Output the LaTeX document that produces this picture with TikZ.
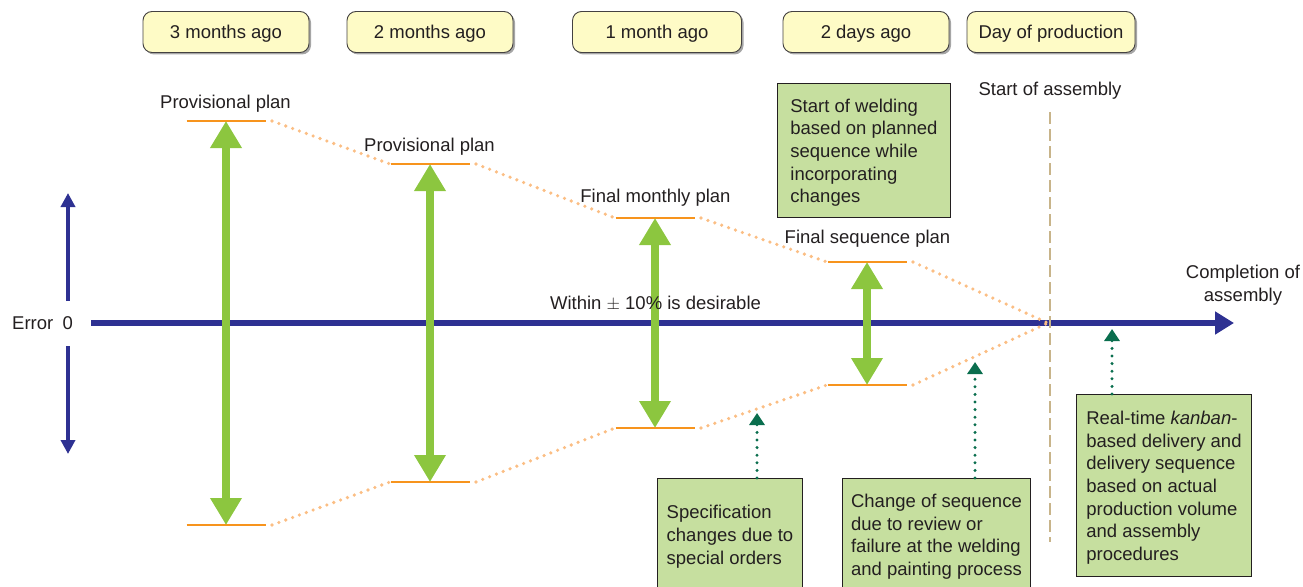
\documentclass[tikz,border=0pt]{standalone}
\usepackage{fontspec}
\setmainfont{Liberation Sans}
\usetikzlibrary{arrows.meta,shadows}

\definecolor{ink}{HTML}{231F20}
\definecolor{navy}{HTML}{2E3192}
\definecolor{leaf}{HTML}{8CC63F}
\definecolor{amber}{HTML}{F7941D}
\definecolor{peach}{HTML}{FBBE84}
\definecolor{sand}{HTML}{C8B48A}
\definecolor{pine}{HTML}{0A6E4E}
\definecolor{cream}{HTML}{FEFBC6}
\definecolor{sage}{HTML}{C6DF9F}

\newcommand\topstrut{\rule{0pt}{18pt}}

\tikzset{
  period/.style={draw=ink!85, line width=0.9pt, fill=cream, rounded corners=9pt,
    minimum height=41pt, inner sep=0pt, text height=17.5pt, text depth=3.9pt,
    drop shadow={shadow xshift=2pt, shadow yshift=-2pt, fill=black, opacity=0.35}},
  note/.style={draw=ink, line width=0.9pt, fill=sage, align=left, inner sep=0pt, anchor=north west},
  lbl/.style={inner sep=0pt, text height=17.3pt, text depth=3.9pt},
  level/.style={draw=amber, line width=2.6pt},
  trend/.style={draw=peach, line width=3.6pt, line cap=round, dash pattern=on 0pt off 7.3pt},
  spread/.style={draw=leaf, line width=7.3pt, {Triangle[width=30pt,length=27pt]}-{Triangle[width=30pt,length=27pt]}},
  cause/.style={draw=pine, line width=3.3pt, line cap=round, dash pattern=on 0pt off 7.6pt,
    -{Triangle[width=15pt,length=12pt]}},
  sign/.style={draw=navy, line width=4pt, -{Triangle[width=14pt,length=14pt]}},
}

\begin{document}
\begin{tikzpicture}[x=1pt, y=-1pt, font=\fontsize{18.5}{22.7}\selectfont, text=ink]
\useasboundingbox (0,0) rectangle (1303,586);
\clip (0,0) rectangle (1303,586);

% time line headings
\node[period, minimum width=166pt] (m3) at (226,32) {3 months ago};
\node[period, minimum width=166pt] (m2) at (430,32) {2 months ago};
\node[period, minimum width=169pt] (m1) at (657,32) {1 month ago};
\node[period, minimum width=166pt] (d2) at (866,32) {2 days ago};
\node[period, minimum width=168pt] (d0) at (1051,32) {Day of production};

% plan levels (upper and lower error limits)
\coordinate (t1) at (226,121); \coordinate (b1) at (226,525);
\coordinate (t2) at (430,164); \coordinate (b2) at (430,482);
\coordinate (t3) at (655,218); \coordinate (b3) at (655,428);
\coordinate (t4) at (867,262); \coordinate (b4) at (867,385);
\coordinate (conv) at (1048,323);

% zero error axis
\coordinate (ax0) at (91,323);
\coordinate (ax1) at (1234,323);
\draw[navy, line width=6pt, -{Triangle[width=22pt,length=19pt]}] (ax0) -- (ax1);

\node[lbl] (err) at (42.5,323) {Error\enspace0};
\coordinate (up0) at (68,301); \coordinate (up1) at (68,193);
\coordinate (dn0) at (68,346); \coordinate (dn1) at (68,454);
\draw[sign] (up0) -- (up1);
\draw[sign] (dn0) -- (dn1);

% start of assembly marker
\coordinate (sa0) at (1050,112); \coordinate (sa1) at (1050,542);
\draw[sand, line width=2.6pt, dash pattern=on 12pt off 5pt] (sa0) -- (sa1);
\node[lbl] (sa) at (1050,89) {Start of assembly};

% narrowing trend of the plan error
\draw[trend] ([xshift=46pt]t1) -- ([xshift=-40pt]t2);
\draw[trend] ([xshift=46pt]t2) -- ([xshift=-40pt]t3);
\draw[trend] ([xshift=46pt]t3) -- ([xshift=-40pt]t4);
\draw[trend] ([xshift=46pt]t4) -- (conv);
\draw[trend] ([xshift=46pt]b1) -- ([xshift=-40pt]b2);
\draw[trend] ([xshift=46pt]b2) -- ([xshift=-40pt]b3);
\draw[trend] ([xshift=46pt]b3) -- ([xshift=-40pt]b4);
\draw[trend] ([xshift=46pt]b4) -- (conv);

% level bars
\foreach \p in {t1,b1,t2,b2,t3,b3,t4,b4}
  \draw[level] ([xshift=-39.5pt]\p) -- ([xshift=39.5pt]\p);

% error ranges
\draw[spread] (t1) -- (b1);
\draw[spread] (t2) -- (b2);
\draw[spread] (t3) -- (b3);
\draw[spread] (t4) -- (b4);

% plan labels
\node[lbl] (pp1) at (225.5,102) {Provisional plan};
\node[lbl] (pp2) at (429.5,145) {Provisional plan};
\node[lbl] (fmp) at (655.5,196) {Final monthly plan};
\node[lbl] (fsp) at (867.5,237) {Final sequence plan};
\node[lbl] (tol) at (655.5,303) {Within $\pm$ 10\% is desirable};
\node[inner sep=0pt, align=center] (done) at (1243,285) {Completion of\\assembly};

% notes
\node[note, minimum width=173pt, minimum height=134pt] (weld) at (777,83)
  {\topstrut Start of welding\\based on planned\\sequence while\\incorporating\\changes};
\node[note, minimum width=145pt, minimum height=112pt] (spec) at (657,478)
  {\topstrut Specification\\changes due to\\special orders};
\node[note, minimum width=188pt, minimum height=112pt] (chg) at (842,478)
  {\topstrut Change of sequence\\due to review or\\failure at the welding\\and painting process};
\node[note, minimum width=175pt, minimum height=182pt] (kan) at (1076,394)
  {\topstrut Real-time \textit{kanban}-\\based delivery and\\delivery sequence\\based on actual\\production volume\\and assembly\\procedures};

% influences on the sequence
\coordinate (sp) at (757,413);
\coordinate (cp) at (975,362);
\coordinate (kp) at (1112,329);
\draw[cause] (spec.north -| sp) -- (sp);
\draw[cause] (chg.north -| cp) -- (cp);
\draw[cause] (kan.north -| kp) -- (kp);
\end{tikzpicture}
\end{document}
